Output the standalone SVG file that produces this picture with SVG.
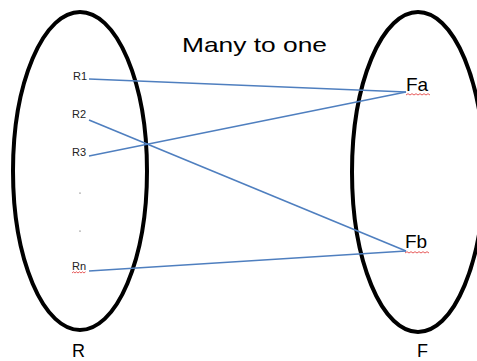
<svg xmlns="http://www.w3.org/2000/svg" width="477" height="361" viewBox="0 0 477 361">
<style>
.set{fill:none;stroke:#000;stroke-width:4}
.edge{stroke:#4f7fbf;stroke-width:1.6;fill:none}
.sm{font-family:"Liberation Sans",Arial,sans-serif;font-size:11px;fill:#222}
.lg{font-family:"Liberation Sans",Arial,sans-serif;fill:#000}
.squig{fill:none;stroke:#e03030;stroke-width:0.8}
</style>
<rect width="477" height="361" fill="#fff"/>
<g id="setR">
<ellipse class="set" cx="80" cy="171" rx="67" ry="159"/>
<text class="lg" x="72" y="357" font-size="18">R</text>
</g>
<g id="setF">
<ellipse class="set" cx="418" cy="172" rx="66" ry="160"/>
<text class="lg" x="417" y="357" font-size="18">F</text>
</g>
<g id="title">
<text class="lg" x="182" y="52" font-size="21" textLength="145" lengthAdjust="spacingAndGlyphs">Many to one</text>
</g>
<g id="connectors">
<line class="edge" x1="89" y1="79" x2="406" y2="92"/>
<line class="edge" x1="89" y1="156" x2="406" y2="92"/>
<line class="edge" x1="89" y1="120" x2="406" y2="251"/>
<line class="edge" x1="89" y1="271" x2="406" y2="251"/>
</g>
<g id="R1"><text class="sm" x="73" y="80">R1</text></g>
<g id="R2"><text class="sm" x="72" y="118">R2</text></g>
<g id="R3"><text class="sm" x="72" y="156">R3</text></g>
<g id="dots">
<circle cx="80" cy="193" r="0.6" fill="#333"/>
<circle cx="80" cy="231" r="0.6" fill="#333"/>
</g>
<g id="Rn">
<text class="sm" x="72" y="270">Rn</text>
<path class="squig" d="M72 273 l1.5 -1.2 l1.5 1.2 l1.5 -1.2 l1.5 1.2 l1.5 -1.2 l1.5 1.2 l1.5 -1.2 l1.5 1.2 l1.5 -1.2"/>
</g>
<g id="Fa">
<text class="lg" x="406" y="91" font-size="19">Fa</text>
<path class="squig" d="M406 95 l2 -1.3 l2 1.3 l2 -1.3 l2 1.3 l2 -1.3 l2 1.3 l2 -1.3 l2 1.3 l2 -1.3 l2 1.3 l2 -1.3 l2 1.3"/>
</g>
<g id="Fb">
<text class="lg" x="405" y="248" font-size="19">Fb</text>
<path class="squig" d="M405 253 l2 -1.3 l2 1.3 l2 -1.3 l2 1.3 l2 -1.3 l2 1.3 l2 -1.3 l2 1.3 l2 -1.3 l2 1.3 l2 -1.3 l2 1.3"/>
</g>
</svg>
